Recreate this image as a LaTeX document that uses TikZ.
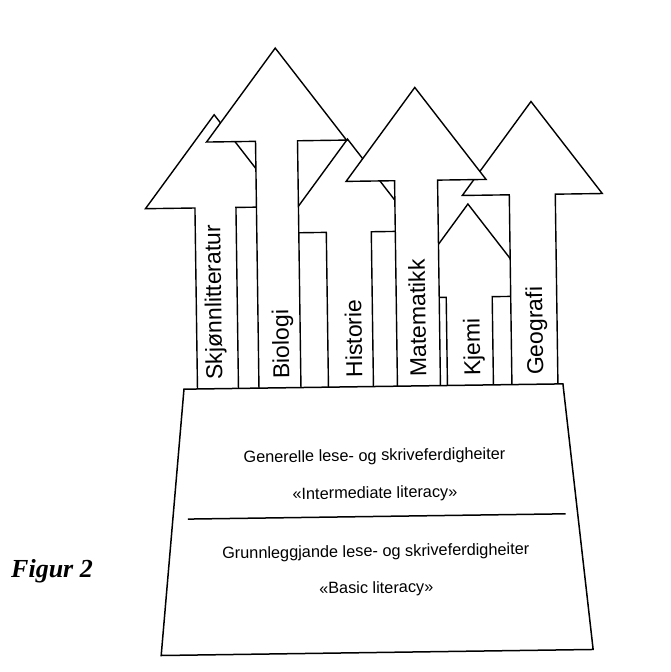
\documentclass[tikz,border=0pt]{standalone}
\usepackage{fontspec}
\setmainfont{Liberation Serif}
\setsansfont{Liberation Sans}
\tikzset{
  pilstil/.style={draw=black, fill=white, line width=1.4pt, line join=miter},
  basestil/.style={draw=black, fill=white, line width=1.5pt},
  fagtekst/.style={font=\sffamily\fontsize{23}{23}\selectfont, rotate=90.8, anchor=base west, inner sep=0pt},
  basetekst/.style={font=\sffamily\fontsize{16.3}{16.3}\selectfont, rotate=0.8, anchor=base, inner sep=0pt},
  figtekst/.style={font=\rmfamily\bfseries\itshape\fontsize{26}{26}\selectfont, anchor=base west, inner sep=0pt}
}
% #1 centre x, #2 shaft half width, #3 y of head bottom
\newcommand\fagpil[3]{%
  \draw[pilstil] ({#1-#2},392) -- ({#1-#2},#3) -- ({#1-70},#3) -- (#1,{#3-93})
    -- ({#1+70},#3) -- ({#1+#2},#3) -- ({#1+#2},392) -- cycle;}
\begin{document}
\begin{tikzpicture}[x=1pt,y=-1pt]
  \useasboundingbox (0,0) rectangle (671,672);
  \begin{scope}[rotate around={0.8:(375,390)}]
    % arrows, back to front
    \fagpil{218}{20.5}{205.5}   % Skjonnlitteratur
    \fagpil{351}{22.5}{231.7}   % Historie
    \fagpil{470.5}{23}{298.3}   % Kjemi
    \fagpil{535}{23}{196.7}     % Geografi
    \fagpil{280}{21}{139.7}     % Biologi
    \fagpil{419}{21.5}{181}     % Matematikk
    % base
    \draw[basestil] (184,386.5) coordinate (tl) -- (563,386.5) coordinate (tr)
      -- (589.5,652.5) coordinate (br) -- (157.5,652.5) coordinate (bl) -- cycle;
    \coordinate (dl) at (186,516.5);
    \coordinate (dr) at (564,516.5);
    \draw[line width=1.5pt] (dl) -- (dr);
    % labels
    \node[fagtekst] (skj) at (222.5,377.5) {Skjønnlitteratur};
    \node[fagtekst] (bio) at (289.5,377.5) {Biologi};
    \node[fagtekst] (his) at (362.5,377.5) {Historie};
    \node[fagtekst] (mat) at (426.5,377.5) {Matematikk};
    \node[fagtekst] (kje) at (480.5,377.5) {Kjemi};
    \node[fagtekst] (geo) at (543.5,377.5) {Geografi};
    \node[basetekst] (gen) at (373.5,461) {Generelle lese- og skriveferdigheiter};
    \node[basetekst] (int) at (373.5,498.3) {«Intermediate literacy»};
    \node[basetekst] (gru) at (373.5,556.7) {Grunnleggjande lese- og skriveferdigheiter};
    \node[basetekst] (bas) at (373.5,593.3) {«Basic literacy»};
  \end{scope}
  \node[figtekst] (fig) at (11,577) {Figur 2};
\end{tikzpicture}
\end{document}
